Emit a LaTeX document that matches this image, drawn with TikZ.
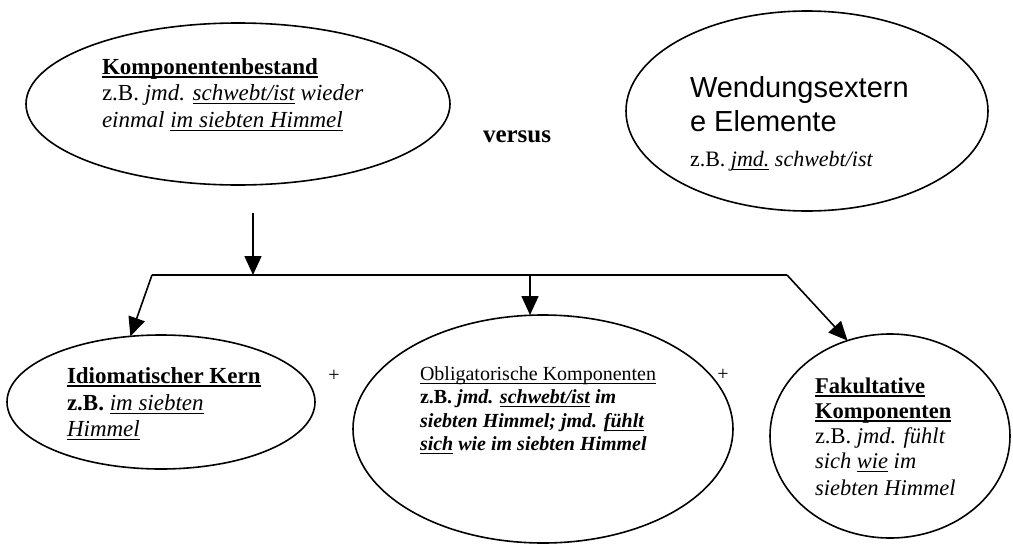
\documentclass[tikz,border=0pt]{standalone}
\usepackage{fontspec}
\setmainfont{Liberation Serif}
\newfontfamily\arialf{Liberation Sans}
\usetikzlibrary{shapes.geometric,arrows.meta}
\newcommand\fsz[2]{\fontsize{#1}{#2}\selectfont}
\newsavebox\myulbox
\newcommand\uline[1]{\sbox\myulbox{#1}\leavevmode\rlap{\rule[-3.6pt]{\wd\myulbox}{1.1pt}}\usebox\myulbox}
\newcommand\bul[1]{\sbox\myulbox{#1}\leavevmode\rlap{\rule[-4pt]{\wd\myulbox}{1.8pt}}\usebox\myulbox}
\begin{document}
\begin{tikzpicture}[x=1pt,y=-1pt,
  ell/.style={draw,ellipse,line width=1.6pt,inner sep=0pt,outer sep=0pt},
  txt/.style={anchor=base west,inner sep=0pt,outer sep=0pt},
  ln/.style={line width=1.6pt},
  arr/.style={line width=1.6pt,-{Triangle[width=17pt,length=19pt]}}]
\useasboundingbox (0,0) rectangle (1013,544);
% ellipses
\node[ell,minimum width=424pt,minimum height=162pt] (kb) at (238,104) {};
\node[ell,minimum width=362pt,minimum height=200pt] (we) at (807,111) {};
\node[ell,minimum width=308pt,minimum height=134pt] (ik) at (161,402) {};
\node[ell,minimum width=380pt,minimum height=228pt] (ok) at (543,429) {};
\node[ell,minimum width=240pt,minimum height=204pt] (fk) at (890,436) {};
% texts: Komponentenbestand
\node[txt,font=\fsz{23}{26}] (kb1) at (102,74) {\bfseries\bul{Komponentenbestand}};
\node[txt,font=\fsz{23}{26}] (kb2) at (102,100) {z.B. \textit{jmd. \uline{schwebt/ist} wieder}};
\node[txt,font=\fsz{23}{26}] (kb3) at (102,127) {\textit{einmal \uline{im siebten Himmel}}};
% versus
\node[txt,font=\fsz{25}{28}\bfseries] (vs) at (483,142) {versus};
% Wendungsexterne Elemente
\node[txt,font=\fsz{29}{35}\arialf] (we1) at (690,97) {Wendungsextern};
\node[txt,font=\fsz{29}{35}\arialf] (we2) at (690,131) {e Elemente};
\node[txt,font=\fsz{22}{25}] (we3) at (690,166) {z.B. \textit{\uline{jmd.} schwebt/ist}};
% Idiomatischer Kern
\node[txt,font=\fsz{23}{26}] (ik1) at (67,383) {\bfseries\bul{Idiomatischer Kern}};
\node[txt,font=\fsz{23}{26}] (ik2) at (67,410) {\textbf{z.B.} \textit{\uline{im siebten}}};
\node[txt,font=\fsz{23}{26}] (ik3) at (67,436) {\textit{\uline{Himmel}}};
% Obligatorische Komponenten
\node[txt,font=\fsz{20}{23}] (ok1) at (420,380) {\uline{Obligatorische Komponenten}};
\node[txt,font=\fsz{20}{23}\bfseries] (ok2) at (420,403) {z.B. \textit{jmd. \uline{schwebt/ist} im}};
\node[txt,font=\fsz{20}{23}\bfseries\itshape] (ok3) at (420,427) {siebten Himmel; jmd. \uline{fühlt}};
\node[txt,font=\fsz{20}{23}\bfseries\itshape] (ok4) at (420,450) {\uline{sich} wie im siebten Himmel};
% Fakultative Komponenten
\node[txt,font=\fsz{22.5}{25}] (fk1) at (815,393) {\bfseries\bul{Fakultative}};
\node[txt,font=\fsz{22.5}{25}] (fk2) at (815,418) {\bfseries\bul{Komponenten}};
\node[txt,font=\fsz{22.5}{25}] (fk3) at (815,443) {z.B. \textit{jmd. fühlt}};
\node[txt,font=\fsz{22.5}{25}] (fk4) at (815,468) {\textit{sich \uline{wie} im}};
\node[txt,font=\fsz{22.5}{25}] (fk5) at (815,495) {\textit{siebten Himmel}};
% plus signs
\node[inner sep=0pt,font=\fsz{20}{22}] (p1) at (334,376) {+};
\node[inner sep=0pt,font=\fsz{20}{22}] (p2) at (723,375) {+};
% connectors
\coordinate (s) at (253,213);
\coordinate (j) at (253,275);
\coordinate (hl) at (152,275);
\coordinate (hr) at (787,275);
\coordinate (hm) at (530,275);
\draw[arr] (s) -- (j);
\draw[ln] (hl) -- (hr);
\draw[arr] (hl) -- (ik.115);
\draw[arr] (hm) -- (hm |- ok.north);
\draw[arr] (hr) -- (fk.114);
\end{tikzpicture}
\end{document}
